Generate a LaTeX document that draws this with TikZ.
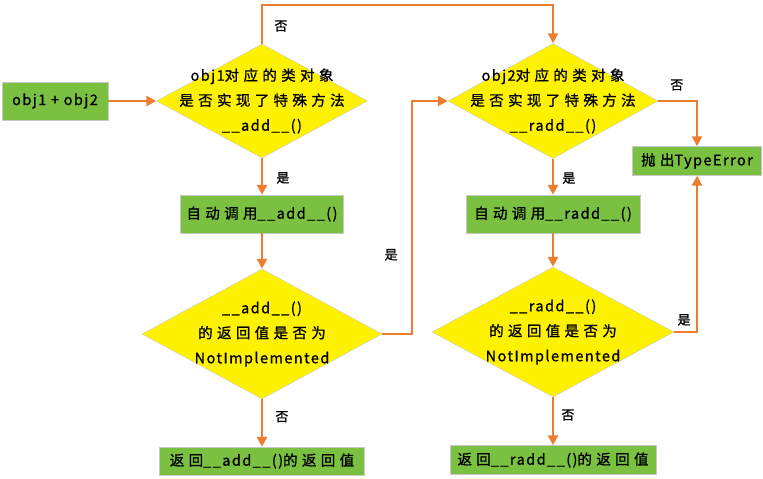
\documentclass[tikz,border=0pt]{standalone}
\usepackage{fontspec}
\setmainfont[LetterSpace=10,FakeBold=1]{Noto Sans CJK SC}
\newfontfamily\zhfont[LetterSpace=30,FakeBold=1]{Noto Sans CJK SC}
\newcommand{\zhs}[1]{{\zhfont #1}}
\usepackage{tikz}
\usetikzlibrary{arrows.meta,positioning,shapes.geometric}
\definecolor{lineorange}{RGB}{237,125,49}
\definecolor{boxgreen}{RGB}{122,193,66}
\definecolor{rimgray}{RGB}{200,200,200}
\tikzset{%
	process/.style  = {draw=rimgray, fill=boxgreen, rectangle, minimum height=38pt, inner sep=0pt, text centered},
	decision/.style = {draw=rimgray, fill=yellow, diamond, inner sep=0pt},
	dtext/.style    = {align=center, inner sep=0pt}, % text inside a diamond
	lbl/.style      = {text=black, inner sep=1pt, font=\fontsize{13}{15}\selectfont},
	arrow/.style    = {line width=2.8pt, lineorange, -{Triangle[length=10pt,width=10pt]}},
}

\begin{document}
\begin{tikzpicture}[x=1pt,y=1pt,font=\fontsize{14.5}{25}\selectfont]
	\useasboundingbox (0,0) rectangle (763,479);
	\node [decision, minimum width=211pt, minimum height=114pt] (d1) at (262,378) {};
	\node [dtext] (d1t) at (d1) {obj1\zhs{对应的类对象}\\\zhs{是否实现了特殊方法}\\\_\_add\_\_()};
	\node [process, minimum width=106pt] (in) [node distance=207pt, left of=d1] {obj1 + obj2};
	\node [process, minimum width=163pt] (call1) [node distance=113pt, below of=d1] {\zhs{自动调用}\_\_add\_\_()};
	\node [decision, minimum width=240pt, minimum height=130pt] (d3) [node distance=120pt, below of=call1] {};
	\node [dtext] (d3t) at (d3) {\_\_add\_\_()\\\zhs{的返回值是否为}\\NotImplemented};
	\node [process, minimum width=205pt, minimum height=28pt] (ret1) [node distance=127pt, below of=d3] {\zhs{返回}\_\_add\_\_()\zhs{的返回值}};
	
	\node [decision, minimum width=210pt, minimum height=115pt] (d2) [node distance=291pt, right of=d1] {};
	\node [dtext] (d2t) at (d2) {obj2\zhs{对应的类对象}\\\zhs{是否实现了特殊方法}\\\_\_radd\_\_()};
	\node [process, minimum width=174pt] (call2) [node distance=113pt, below of=d2] {\zhs{自动调用}\_\_radd\_\_()};
	\node [decision, minimum width=242pt, minimum height=130pt] (d4) [node distance=118pt, below of=call2] {};
	\node [dtext] (d4t) at (d4) {\_\_radd\_\_()\\\zhs{的返回值是否为}\\NotImplemented};
	\node [process, minimum width=206pt, minimum height=29pt] (ret2) [node distance=128pt, below of=d4] {\zhs{返回}\_\_radd\_\_()\zhs{的返回值}};
	\node [process, minimum width=129pt, minimum height=29pt] (te) at (697,318) {\zhs{抛出}TypeError};
	\coordinate (top1) at (262,474);
	\coordinate (jog1) at (412,378);
	
	\draw[arrow] (in) -- (d1);
	\draw[arrow] (d1.north) -- node[lbl, right=10pt, pos=0.46] {\zhs{否}} (top1) -| (d2.north);
	\draw[arrow] (d1) -- node[lbl, right=12pt, pos=0.54] {\zhs{是}} (call1);
	\draw[arrow] (call1) -- (d3);
	\draw[arrow] (d3) -- node[lbl, right=11pt, pos=0.37] {\zhs{否}} (ret1);
	\draw[arrow] (d3.east) -| node[lbl, left=12pt, pos=0.67] {\zhs{是}} (jog1) -- (d2.west);
	\draw[arrow] (d2) -- node[lbl, right=7pt, pos=0.54] {\zhs{是}} (call2);
	\draw[arrow] (call2) -- (d4);
	\draw[arrow] (d4) -- node[lbl, right=6pt, pos=0.37] {\zhs{否}} (ret2);
	\draw[arrow] (d2.east) -| node[lbl, above=8pt, pos=0.24] {\zhs{否}} (te.north);
	\draw[arrow] (d4.east) -| node[lbl, above left=4pt and 4pt, pos=0.5] {\zhs{是}} (te.south);
\end{tikzpicture}
\end{document}
